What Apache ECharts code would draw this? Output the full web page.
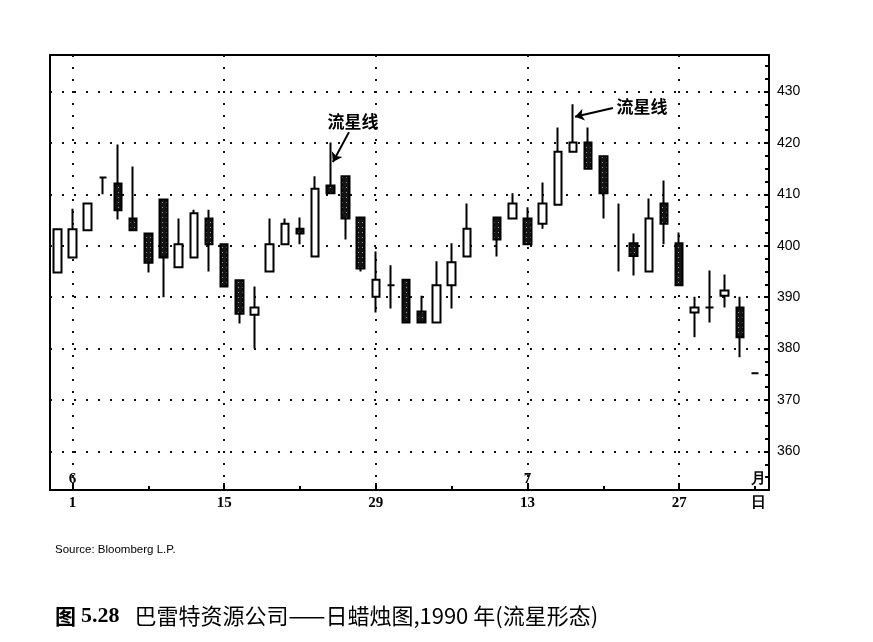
<!DOCTYPE html>
<html>
<head>
<meta charset="utf-8">
<script src="https://cdn.jsdelivr.net/npm/echarts@6/dist/echarts.min.js"></script>
<style>
  html, body { margin: 0; padding: 0; background: #fff; }
  #main { width: 873px; height: 642px; }
</style>
</head>
<body>
<div id="main"></div>
<script>
// 交易日序号：0 = 5月31日，1 = 6月1日 ... 28 空档
var slots  = [0, 1, 2, 3, 4, 5, 6, 7, 8, 9, 10, 11, 12, 13, 14, 15, 16, 17, 18, 19, 20, 21, 22, 23, 24, 25, 26, 27,
              29, 30, 31, 32, 33, 34, 35, 36, 37, 38, 39, 40, 41, 42, 43, 44, 45, 46];
var opens  = [394.8, 397.7, 403.0, 413.3, 412.1, 405.3, 402.4, 409.0, 395.8, 397.7, 405.3, 400.3, 393.3, 386.6, 395.0,
              400.3, 403.3, 397.9, 411.7, 413.5, 405.5, 390.1, 392.3, 393.4, 387.2, 385.1, 392.3, 397.9,
              405.5, 405.3, 405.3, 404.3, 408.0, 418.3, 420.1, 417.4, 401.0, 400.5, 395.0, 408.2, 400.5, 387.0,
              388.0, 390.3, 388.0, 375.2];
var closes = [403.2, 403.2, 408.2, 413.3, 406.9, 403.0, 396.7, 397.7, 400.3, 406.3, 400.3, 392.1, 386.8, 388.0, 400.3,
              404.3, 402.4, 411.1, 410.2, 405.3, 395.6, 393.4, 392.3, 385.1, 385.1, 392.3, 396.8, 403.3,
              401.2, 408.2, 400.3, 408.2, 418.3, 420.1, 415.0, 410.2, 401.0, 398.0, 405.3, 404.3, 392.3, 388.0,
              388.0, 391.3, 382.2, 375.2];
var lows   = [394.8, 397.7, 403.0, 410.0, 405.1, 403.0, 394.8, 390.0, 395.8, 397.7, 395.0, 392.1, 384.9, 380.0, 395.0,
              400.3, 400.3, 397.9, 410.2, 401.2, 395.0, 387.0, 387.8, 385.1, 385.1, 385.1, 387.8, 397.9,
              397.9, 405.3, 400.3, 403.3, 408.0, 418.3, 415.0, 405.3, 395.0, 394.2, 395.0, 400.3, 392.3, 382.2,
              385.1, 388.0, 378.3, 375.2];
var highs  = [403.2, 407.2, 408.2, 413.3, 419.7, 415.4, 402.4, 409.0, 405.3, 407.0, 407.0, 400.3, 393.3, 392.1, 405.3,
              405.3, 405.5, 413.5, 420.1, 413.5, 405.5, 398.9, 396.2, 393.4, 390.3, 397.0, 400.5, 408.2,
              405.5, 410.2, 407.5, 412.3, 423.0, 427.5, 423.0, 417.4, 408.2, 402.4, 409.2, 412.7, 402.6, 390.1,
              395.2, 394.4, 390.1, 375.2];
// 只有影线、没有实体的那一天
var wickOnly = [37];

var dayTicks    = [1, 11, 21, 31, 41];
var dayLabels   = ['1', '15', '29', '13', '27'];
var monthTicks  = [1, 31];
var monthLabels = ['6', '7'];
var halfTicks   = [6, 16, 26, 36, 46];
var unitSlot    = 46.2;   // 月 / 日
var priceTicks  = [360, 370, 380, 390, 400, 410, 420, 430];
var priceMinor  = [355, 357.5, 362.5, 365, 367.5, 372.5, 375, 377.5, 382.5, 385, 387.5, 392.5, 395, 397.5,
                   402.5, 405, 407.5, 412.5, 415, 417.5, 422.5, 425, 427.5, 432.5, 435];

// 流星线 标注
var noteText   = ['流星线', '流星线'];
var notePos    = [[19.5, 424.1], [38.55, 427.0]];
var arrowFrom  = [[19.23, 422.1], [36.63, 426.8]];
var arrowTo    = [[18.17, 416.3], [34.13, 425.1]];

var candles = [], bare = [];
for (var i = 0; i < slots.length; i++) {
  var row = [slots[i], opens[i], closes[i], lows[i], highs[i]];
  if (wickOnly.indexOf(slots[i]) > -1) bare.push(row); else candles.push(row);
}

// 阴线实体的点状纹理
var pat = document.createElement('canvas');
pat.width = 4; pat.height = 5;
var g = pat.getContext('2d');
g.fillStyle = '#141414'; g.fillRect(0, 0, 4, 5);
g.fillStyle = '#9a9a9a'; g.fillRect(2, 2, 1, 1);

var dotted = { color: '#111', width: 2, type: [2, 10] };
var black = { color: '#000', width: 2 };

function pick(list, labels) {
  return function (v) {
    for (var k = 0; k < list.length; k++) if (Math.abs(list[k] - v) < 1e-6) return labels[k];
    return '';
  };
}

var myChart = echarts.init(document.getElementById('main'));
var option = {
  animation: false,
  backgroundColor: '#fff',
  title: [{
    text: 'Source: Bloomberg L.P.',
    left: 50, top: 539,
    textStyle: { fontFamily: 'Liberation Sans', fontSize: 11.5, fontWeight: 'normal', color: '#000' }
  }, {
    text: '{a|图} {b|5.28}   {n|巴雷特资源公司——日蜡烛图,1990 年(流星形态)}',
    left: 50, top: 600,
    textStyle: {
      rich: {
        a: { fontFamily: 'Noto Sans CJK SC', fontWeight: 'bold', fontSize: 21, color: '#000' },
        b: { fontFamily: 'Liberation Serif', fontWeight: 'bold', fontSize: 22, color: '#000' },
        n: { fontFamily: 'Noto Sans CJK SC', fontWeight: 'normal', fontSize: 22, color: '#000' }
      }
    }
  }],
  grid: [
    { left: 50, top: 55, width: 719, height: 435, show: true, borderColor: '#000', borderWidth: 2 },
    { left: 50, top: 55, width: 719, height: 435, show: false }
  ],
  xAxis: [{
    type: 'value', gridIndex: 0, min: -0.48, max: 46.92, position: 'bottom',
    axisLine: { show: true, onZero: false, lineStyle: black },
    axisTick: { show: true, inside: true, length: 7, customValues: dayTicks, lineStyle: black },
    axisLabel: {
      customValues: dayTicks.concat([unitSlot]),
      formatter: pick(dayTicks.concat([unitSlot]), dayLabels.concat(['日'])),
      color: '#000', fontFamily: 'Liberation Serif', fontWeight: 'bold', fontSize: 15, margin: 6
    },
    splitLine: { show: true, lineStyle: dotted }
  }, {
    type: 'value', gridIndex: 1, min: -0.48, max: 46.92, position: 'bottom',
    axisLine: { show: false, onZero: false },
    axisTick: { show: true, inside: true, length: 4, customValues: halfTicks, lineStyle: black },
    axisLabel: {
      inside: true,
      customValues: monthTicks.concat([unitSlot]),
      formatter: pick(monthTicks.concat([unitSlot]), monthLabels.concat(['月'])),
      color: '#000', fontFamily: 'Liberation Serif', fontWeight: 'bold', fontSize: 15, margin: 3
    },
    splitLine: { show: false }
  }],
  yAxis: [{
    type: 'value', gridIndex: 0, min: 352.5, max: 437.1, position: 'right',
    axisLine: { show: true, onZero: false, lineStyle: black },
    axisTick: { show: true, inside: true, length: 5, customValues: priceTicks, lineStyle: black },
    axisLabel: {
      customValues: priceTicks,
      color: '#000', fontFamily: 'Liberation Sans', fontSize: 14, margin: 8
    },
    splitLine: { show: true, lineStyle: dotted }
  }, {
    type: 'value', gridIndex: 1, min: 352.5, max: 437.1, position: 'right',
    axisLine: { show: false, onZero: false },
    axisTick: { show: true, inside: true, length: 4, customValues: priceMinor, lineStyle: black },
    axisLabel: { show: false },
    splitLine: { show: false }
  }],
  series: [{
    name: '日K',
    type: 'candlestick',
    xAxisIndex: 0, yAxisIndex: 0,
    barWidth: 8,
    encode: { x: 0, y: [1, 2, 3, 4] },
    data: candles,
    silent: true,
    itemStyle: {
      color: '#fff', color0: { image: pat, repeat: 'repeat' },
      borderColor: '#000', borderColor0: '#000', borderWidth: 2
    },
    markPoint: {
      symbol: 'rect', symbolSize: 1, silent: true,
      itemStyle: { color: 'rgba(0,0,0,0)' },
      label: {
        show: true, position: 'inside', formatter: '{b}',
        color: '#000', fontFamily: 'Noto Sans CJK SC', fontWeight: 'bold', fontSize: 17
      },
      data: notePos.map(function (p, k) { return { name: noteText[k], coord: p }; })
    },
    markLine: {
      silent: true,
      symbol: ['none', 'arrow'], symbolSize: 9,
      label: { show: false },
      lineStyle: { color: '#000', width: 2, type: 'solid' },
      data: arrowFrom.map(function (p, k) { return [{ coord: p }, { coord: arrowTo[k] }]; })
    }
  }, {
    name: '影线',
    type: 'candlestick',
    xAxisIndex: 0, yAxisIndex: 0,
    barWidth: 1,
    encode: { x: 0, y: [1, 2, 3, 4] },
    data: bare,
    silent: true,
    itemStyle: { color: '#000', color0: '#000', borderColor: '#000', borderColor0: '#000', borderWidth: 2 }
  }]
};
myChart.setOption(option);
</script>
</body>
</html>
